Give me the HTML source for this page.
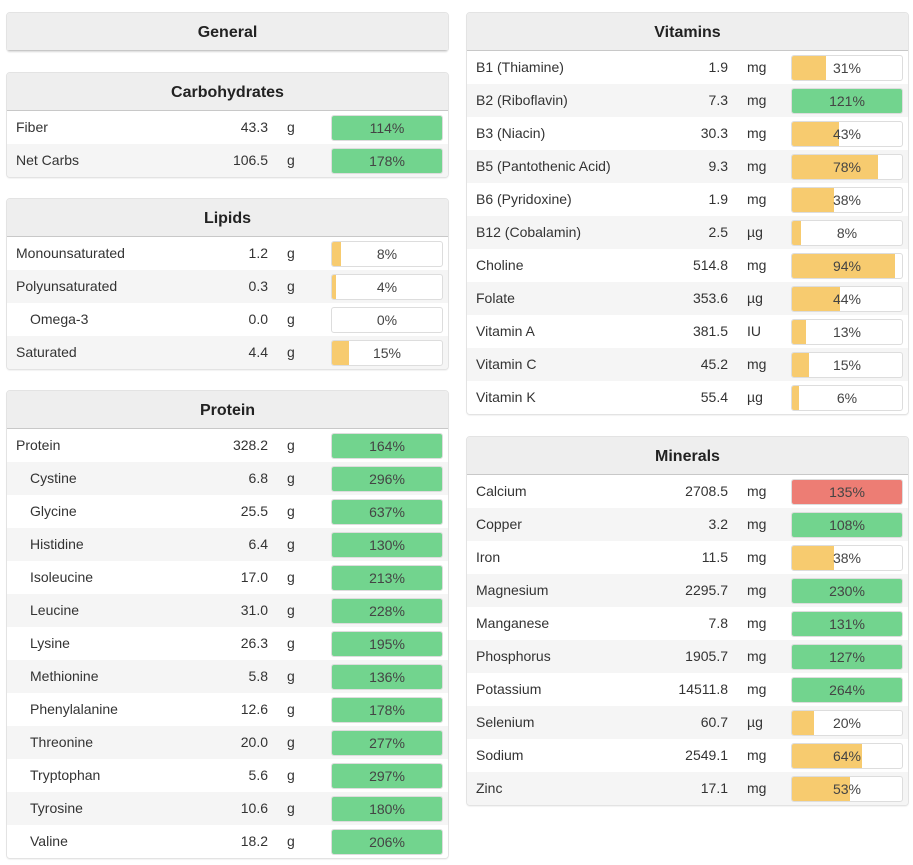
<!DOCTYPE html>
<html><head><meta charset="utf-8">
<style>
body{margin:0;width:913px;height:865px;background:#fff;font-family:"Liberation Sans",sans-serif;color:#333;position:relative;overflow:hidden}
.panel{position:absolute;width:441px;border:1px solid #e3e3e3;border-radius:4px;background:#fff;box-shadow:0 1px 1px rgba(0,0,0,0.05);overflow:hidden}
.hdr{height:37px;line-height:40px;background:#eee;border-bottom:1px solid #c8c8c8;text-align:center;font-weight:bold;font-size:16px;color:#222}
.row{position:relative;height:33px;font-size:14px;line-height:33px;background:#fff}
.row:nth-child(even){background:#f5f5f5}
.lbl{position:absolute;left:9px}
.lbl.ind{left:23px}
.val{position:absolute;right:180px;text-align:right}
.unit{position:absolute;left:280px}
.bar{position:absolute;left:324px;top:4px;width:110px;height:24px;border:1px solid #ddd;border-radius:3px;background:#fff;overflow:hidden}
.fill{position:absolute;left:0;top:0;bottom:0}
.pct{position:absolute;left:0;right:0;top:0;line-height:24px;text-align:center;font-size:14px;color:#444}
</style></head><body>
<div class="panel" style="left:6px;top:12px"><div class="hdr">General</div></div>
<script>
const carbLabels=["Fiber","Net Carbs"];
const carbVals=["43.3","106.5"];const carbUnits=["g","g"];const carbPct=[114,178];
const lipLabels=["Monounsaturated","Polyunsaturated","Omega-3","Saturated"];
const lipVals=["1.2","0.3","0.0","4.4"];const lipUnits=["g","g","g","g"];const lipPct=[8,4,0,15];
const protLabels=["Protein","Cystine","Glycine","Histidine","Isoleucine","Leucine","Lysine","Methionine","Phenylalanine","Threonine","Tryptophan","Tyrosine","Valine"];
const protVals=["328.2","6.8","25.5","6.4","17.0","31.0","26.3","5.8","12.6","20.0","5.6","10.6","18.2"];
const protPct=[164,296,637,130,213,228,195,136,178,277,297,180,206];
const vitLabels=["B1 (Thiamine)","B2 (Riboflavin)","B3 (Niacin)","B5 (Pantothenic Acid)","B6 (Pyridoxine)","B12 (Cobalamin)","Choline","Folate","Vitamin A","Vitamin C","Vitamin K"];
const vitVals=["1.9","7.3","30.3","9.3","1.9","2.5","514.8","353.6","381.5","45.2","55.4"];
const vitUnits=["mg","mg","mg","mg","mg","µg","mg","µg","IU","mg","µg"];
const vitPct=[31,121,43,78,38,8,94,44,13,15,6];
const minLabels=["Calcium","Copper","Iron","Magnesium","Manganese","Phosphorus","Potassium","Selenium","Sodium","Zinc"];
const minVals=["2708.5","3.2","11.5","2295.7","7.8","1905.7","14511.8","60.7","2549.1","17.1"];
const minUnits=["mg","mg","mg","mg","mg","mg","mg","µg","mg","mg"];
const minPct=[135,108,38,230,131,127,264,20,64,53];
const minOver=[true,false,false,false,false,false,false,false,false,false];

function panel(title,left,top,labels,vals,units,pct,indent,over){
  const p=document.createElement('div');p.className='panel';p.style.left=left+'px';p.style.top=top+'px';
  
  
  const h=document.createElement('div');h.className='hdr';h.textContent=title;
  
  
  p.appendChild(h);
  const body=document.createElement('div');p.appendChild(body);
  labels.forEach((l,i)=>{
    const r=document.createElement('div');r.className='row';
    
    
    const pc=pct[i];
    const col=(over&&over[i])?'#ed7d74':(pc>=100?'#72d48e':'#f7cb6f');
    const w=Math.min(pc,100);
    r.innerHTML='<span class="lbl'+(indent&&indent[i]?' ind':'')+'">'+l+'</span><span class="val">'+vals[i]+'</span><span class="unit">'+units[i]+'</span>'+
      '<div class="bar"><div class="fill" style="width:'+w+'%;background:'+col+'"></div><div class="pct">'+pc+'%</div></div>';
    const b=r.querySelector('.bar');
    
    
    body.appendChild(r);
  });
  document.body.appendChild(p);
}
panel('Carbohydrates',6,72,carbLabels,carbVals,carbUnits,carbPct,null,null);
panel('Lipids',6,198,lipLabels,lipVals,lipUnits,lipPct,[0,0,1,0],null);
panel('Protein',6,390,protLabels,protVals,protLabels.map(()=>"g"),protPct,protLabels.map((_,i)=>i>0),null);
panel('Vitamins',466,12,vitLabels,vitVals,vitUnits,vitPct,null,null);
panel('Minerals',466,436,minLabels,minVals,minUnits,minPct,null,minOver);
</script>
</body></html>
